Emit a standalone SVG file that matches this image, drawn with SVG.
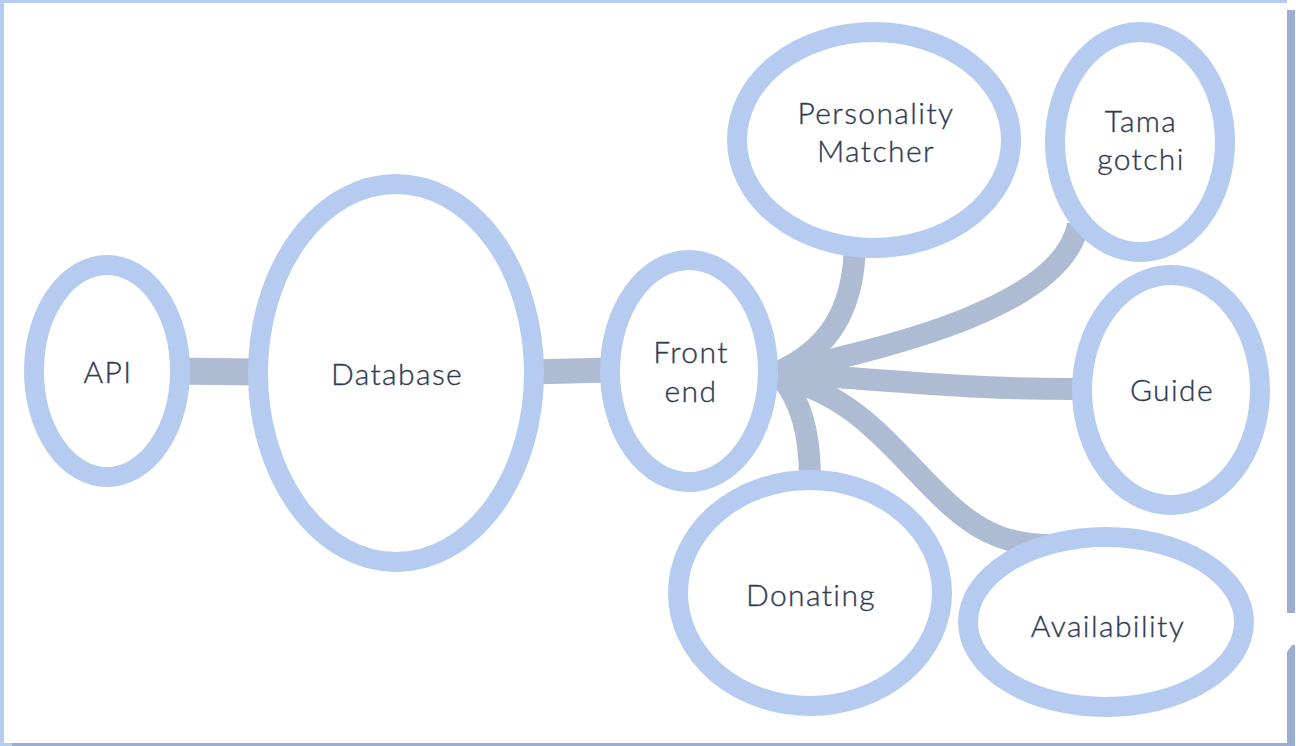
<svg xmlns="http://www.w3.org/2000/svg" width="1296" height="746" viewBox="0 0 1296 746">
<style>
.node{fill:#ffffff;stroke:#b6cbf0;stroke-width:20}
.edge{fill:none;stroke:#aebcd3;stroke-width:22;stroke-linecap:butt}
.lbl{font-family:"Lato","Noto Sans",sans-serif;font-size:30px;font-weight:300;letter-spacing:1.4px;fill:#2f3b55;stroke:#2f3b55;stroke-width:0.35;text-anchor:middle}
</style>
<rect x="0" y="0" width="1296" height="746" fill="#ffffff"/>
<g id="frame">
<rect x="0" y="0" width="1287" height="3" fill="#b6cbf0"/>
<rect x="0" y="0" width="4" height="746" fill="#b6cbf0"/>
<rect x="0" y="743" width="12" height="3" fill="#b6cbf0"/>
<rect x="12" y="743" width="1283" height="3" fill="#9cadd2"/>
<rect x="1287" y="10" width="8" height="603" fill="#9cadd2"/>
<polygon points="1287,652 1292,645 1295,645 1295,746 1287,746" fill="#9cadd2"/>
</g>
<g id="connectors">
<path class="edge" d="M170,371 L262,372" style="stroke-width:27"/>
<path class="edge" d="M530,372 L610,370" style="stroke-width:25"/>
<path class="edge" d="M778,372 C828,350 855,310 855,240"/>
<path class="edge" d="M778,372 C900,345 1062,305 1078,225"/>
<path class="edge" d="M778,374 C880,378 960,390 1085,389"/>
<path class="edge" d="M780,376 C800,400 810,430 810,480"/>
<path class="edge" d="M780,378 C860,395 900,460 950,505 C985,537 1015,545 1050,545"/>
</g>
<g id="api"><ellipse class="node" cx="107" cy="371" rx="73" ry="106"/><text class="lbl" x="108" y="383">API</text></g>
<g id="database"><ellipse class="node" cx="396" cy="373" rx="138" ry="189"/><text class="lbl" x="397" y="385">Database</text></g>
<g id="frontend"><ellipse class="node" cx="689" cy="371" rx="79" ry="111"/><text class="lbl" x="691" y="363">Front</text><text class="lbl" x="691" y="402">end</text></g>
<g id="personality"><ellipse class="node" cx="874" cy="140" rx="137" ry="108"/><text class="lbl" x="876" y="124">Personality</text><text class="lbl" x="876" y="162">Matcher</text></g>
<g id="tamagotchi"><ellipse class="node" cx="1140" cy="142" rx="85" ry="110"/><text class="lbl" x="1141" y="132">Tama</text><text class="lbl" x="1141" y="170">gotchi</text></g>
<g id="guide"><ellipse class="node" cx="1171" cy="390" rx="89" ry="115"/><text class="lbl" x="1172" y="401">Guide</text></g>
<g id="donating"><ellipse class="node" cx="810" cy="593" rx="132" ry="113"/><text class="lbl" x="811" y="606">Donating</text></g>
<g id="availability"><ellipse class="node" cx="1106" cy="622" rx="138" ry="85"/><text class="lbl" x="1108" y="637">Availability</text></g>
</svg>
